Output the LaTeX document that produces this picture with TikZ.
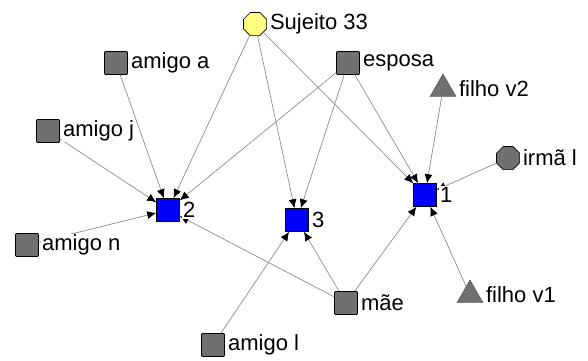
\documentclass[tikz,border=0pt]{standalone}
\usepackage{fontspec}
\setmainfont{Liberation Sans}
\usetikzlibrary{shapes.geometric,arrows.meta}
\definecolor{nodegray}{RGB}{112,112,112}
\definecolor{edgegray}{RGB}{140,140,140}
\definecolor{egoyellow}{RGB}{255,255,128}
\definecolor{bluebox}{RGB}{0,0,255}
\begin{document}
\begin{tikzpicture}[x=1pt,y=-1pt,
  sq/.style={draw=black,line width=0.8pt,fill=nodegray,minimum size=23pt,inner sep=0pt,rounded corners=1pt},
  bsq/.style={draw=black,line width=0.6pt,fill=bluebox,minimum size=23pt,inner sep=0pt},
  oct/.style={regular polygon,regular polygon sides=8,draw=black,line width=0.6pt,minimum size=25pt,inner sep=0pt},
  tri/.style={regular polygon,regular polygon sides=3,draw=black!70,line width=0.4pt,fill=nodegray,minimum size=30pt,inner sep=0pt},
  lab/.style={anchor=west,fill=white,inner sep=1pt,font=\fontsize{22}{25}\selectfont,xshift=2pt},
  edge/.style={draw=edgegray,line width=0.7pt},
  arr/.style={edge,-{Latex[color=black,length=9pt,width=8pt]}}]
\path[use as bounding box] (0,0) rectangle (588,360);
% nodes
\node[oct,fill=egoyellow] (s33) at (255,24) {};
\node[sq] (amigoa) at (116,63) {};
\node[sq] (amigoj) at (48,131) {};
\node[sq] (amigon) at (27,245) {};
\node[sq] (amigol) at (213,345) {};
\node[sq] (esposa) at (348,63) {};
\node[sq] (mae) at (346,303) {};
\node[tri] (filhov2) at (443,89) {};
\node[tri] (filhov1) at (470,295) {};
\node[oct,fill=nodegray] (irma) at (508,158) {};
\node[bsq] (n2) at (168,210) {};
\node[bsq] (n3) at (297,220) {};
\node[bsq] (n1) at (425,195) {};
% edges
\draw[arr] (s33) -- (n2);
\draw[arr] (s33) -- (n3);
\draw[arr] (s33) -- (n1);
\draw[arr] (amigoa) -- (n2);
\draw[arr] (amigoj) -- (n2);
\draw[arr] (amigon) -- (n2);
\draw[arr] (esposa) -- (n2);
\draw[arr] (esposa) -- (n3);
\draw[arr] (esposa) -- (n1);
\draw[arr] (mae) -- (n2);
\draw[arr] (mae) -- (n3);
\draw[arr] (mae) -- (n1);
\draw[arr] (amigol) -- (n3);
\draw[arr] (filhov2) -- (n1);
\draw[arr] (irma) -- (n1);
\draw[arr] (filhov1) -- (n1);
% labels
\node[lab] (ls33) at (s33.east) {Sujeito 33};
\node[lab] (lamigoa) at (amigoa.east) {amigo a};
\node[lab] (lamigoj) at (amigoj.east) {amigo j};
\node[lab] (lamigon) at (amigon.east) {amigo n};
\node[lab] (lamigol) at (amigol.east) {amigo l};
\node[lab] (lesposa) at (esposa.east) {esposa};
\node[lab] (lmae) at (mae.east) {mãe};
\node[lab] (lfilhov2) at ([xshift=4pt]filhov2.east) {filho v2};
\node[lab] (lfilhov1) at ([xshift=4pt]filhov1.east) {filho v1};
\node[lab] (lirma) at (irma.east) {irmã l};
\node[lab] (ln2) at (n2.east) {2};
\node[lab] (ln3) at (n3.east) {3};
\node[lab] (ln1) at (n1.east) {1};
\end{tikzpicture}
\end{document}
